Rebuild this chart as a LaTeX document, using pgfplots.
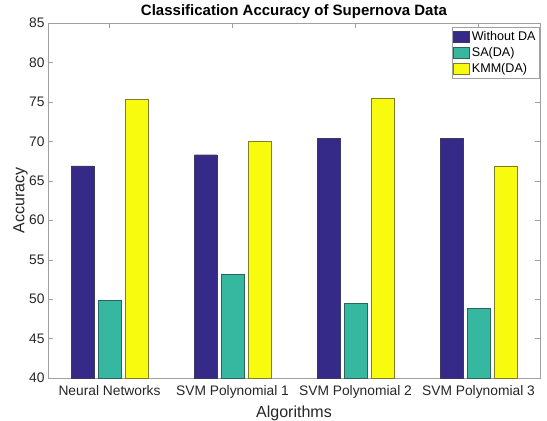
\documentclass[border=0pt]{standalone}
\usepackage{fontspec}
\setmainfont{Liberation Sans}
\usepackage{pgfplots}
\pgfplotsset{compat=1.18}
\definecolor{cA}{RGB}{53,42,135}
\definecolor{cB}{RGB}{54,184,160}
\definecolor{cC}{RGB}{249,251,14}
\definecolor{axgray}{RGB}{160,160,160}
\definecolor{txt}{RGB}{38,38,38}
\begin{document}
\begin{tikzpicture}
\begin{axis}[
  scale only axis, width=492pt, height=355pt,
  xmin=0.5, xmax=4.5, ymin=40, ymax=85,
  ybar, bar width=22.5pt,
  xtick={1,2,3,4},
  xticklabels={Neural Networks,SVM Polynomial 1,SVM Polynomial 2,SVM Polynomial 3},
  ytick={40,45,...,85},
  tick align=inside, major tick length=5pt,
  xtick pos=both, ytick pos=both,
  axis line style={axgray}, tick style={axgray},
  tick label style={font=\fontsize{13.8}{16}\selectfont, text=txt},
  /pgf/number format/assume math mode=true,
  xticklabel style={anchor=base, yshift=-17pt},
  title={\textbf{Classification Accuracy of Supernova Data}},
  title style={font=\fontsize{15}{18}\selectfont, at={(axis description cs:0.5,1)}, anchor=base, yshift=7pt, inner sep=0pt},
  every axis title shift=0pt,
  xlabel={Algorithms}, ylabel={Accuracy},
  label style={font=\fontsize{16}{19}\selectfont, text=txt},
  xlabel style={at={([yshift=-39pt]axis description cs:0.5,0)}, anchor=base, inner sep=0pt},
  ylabel style={at={([xshift=-23.5pt]axis description cs:0,0.5)}, anchor=base, inner sep=0pt},
  legend style={at={(0.9985,0.989)}, anchor=north east, draw=axgray, fill=white,
    font=\fontsize{12.6}{14}\selectfont, text=black, inner xsep=1.5pt, inner ysep=2.5pt, row sep=1.2pt,
    cells={anchor=west}},
  legend image code/.code={\draw[#1, bar shift=0pt] (0pt,-5.5pt) rectangle (16pt,5.5pt);},
]
\addplot[fill=cA, draw=cA!60!black!70!gray, bar shift=-27pt] coordinates {(1,66.9) (2,68.3) (3,70.4) (4,70.35)};
\addplot[fill=cB, draw=cB!50!black!80!gray, bar shift=0pt] coordinates {(1,49.85) (2,53.1) (3,49.45) (4,48.85)};
\addplot[fill=cC, draw=cC!50!black!70!gray, bar shift=27pt] coordinates {(1,75.35) (2,70.0) (3,75.45) (4,66.9)};
\legend{Without DA, SA(DA), KMM(DA)}
\coordinate (bl) at (rel axis cs:0,0);
\coordinate (tr) at (rel axis cs:1,1);
\end{axis}
\pgfresetboundingbox
\path ([shift={(-48pt,-42pt)}]bl) rectangle ([shift={(7pt,23pt)}]tr);
\end{tikzpicture}
\end{document}
